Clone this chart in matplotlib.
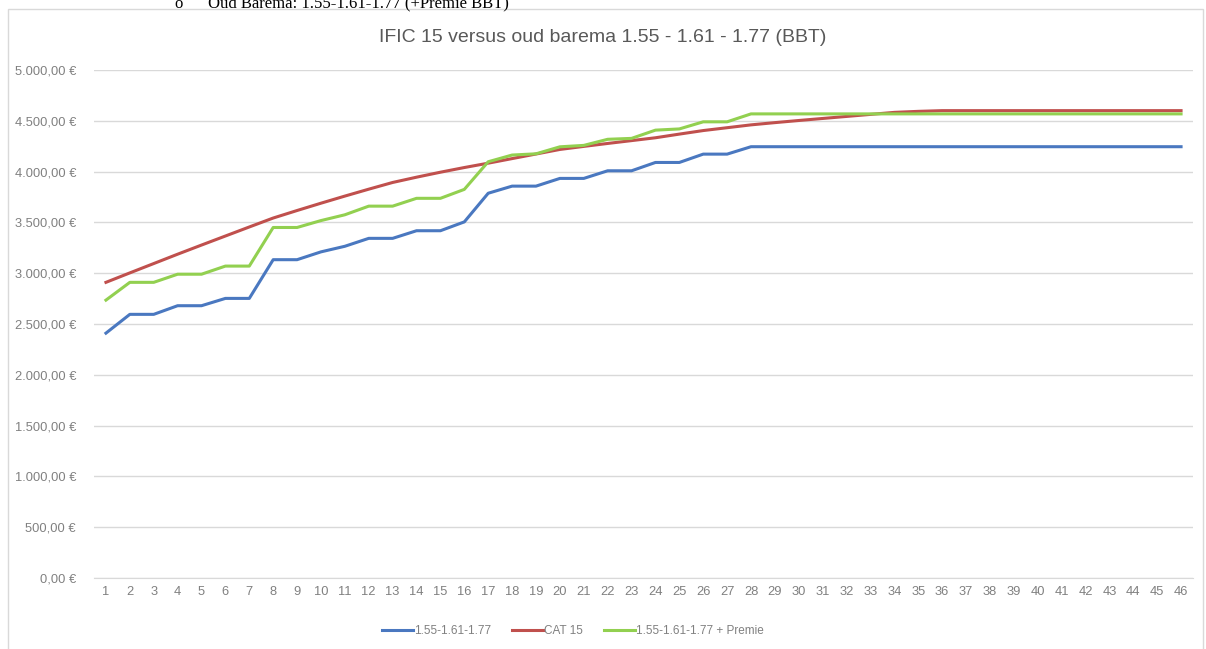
import matplotlib.pyplot as plt
from matplotlib.patches import Rectangle
from matplotlib.ticker import FuncFormatter

plt.rcParams['font.family'] = ['Liberation Sans', 'DejaVu Sans']

# DATA
years = list(range(1, 47))

oud_barema = [2410, 2595, 2595, 2680, 2680, 2752, 2752, 3133, 3133, 3210,
              3265, 3343, 3343, 3418, 3418, 3505, 3787, 3857, 3857, 3933,
              3933, 4008, 4008, 4090, 4090, 4172, 4172] + [4245] * 19

cat15 = [2910, 3003, 3095, 3187, 3277, 3366, 3455, 3543, 3617, 3689,
         3759, 3827, 3893, 3945, 3994, 4040, 4083, 4128, 4173, 4218,
         4248, 4277, 4305, 4333, 4369, 4404, 4432, 4460, 4482, 4503,
         4523, 4543, 4563, 4583, 4593] + [4600] * 11

oud_premie = [2735, 2910, 2910, 2990, 2990, 3070, 3070, 3450, 3450, 3518,
              3575, 3660, 3660, 3737, 3737, 3825, 4097, 4163, 4175, 4244,
              4258, 4318, 4327, 4408, 4420, 4490, 4490] + [4568] * 19

series_names = ["1.55-1.61-1.77", "CAT 15", "1.55-1.61-1.77 + Premie"]
colors = ["#4a78c0", "#c0504d", "#92d050"]
title = "IFIC 15 versus oud barema 1.55 - 1.61 - 1.77 (BBT)"


def euro(v, pos):
    s = f"{v:,.2f}".replace(",", "X").replace(".", ",").replace("X", ".")
    return s + " €"


fig = plt.figure(figsize=(12.06, 6.49), dpi=100)

# chart frame + text from the document above it (cut off like in the source)
fig.patches.append(Rectangle((8 / 1206, -0.01), 1195 / 1206, 1 - 9 / 649 + 0.01,
                             transform=fig.transFigure, fill=False,
                             edgecolor="#d9d9d9", lw=1))
fig.text(175 / 1206, 1 - 7 / 649, "o      Oud Barema: 1.55-1.61-1.77 (+Premie BBT)",
         family="Liberation Serif", fontsize=12, color="#000000", va="baseline")

ax = fig.add_axes([94 / 1206, 1 - 578 / 649, 1099 / 1206, 508 / 649])

for vals, name, c in zip([oud_barema, cat15, oud_premie], series_names, colors):
    ax.plot(years, vals, color=c, lw=2.2, label=name, solid_joinstyle="round")

ax.set_xlim(0.5, 46.5)
ax.set_ylim(0, 5000)
ax.set_xticks(years)
ax.set_yticks(range(0, 5001, 500))
ax.yaxis.set_major_formatter(FuncFormatter(euro))
ax.yaxis.grid(True, color="#d9d9d9", lw=1)
ax.set_axisbelow(True)
for side in ["top", "right", "left"]:
    ax.spines[side].set_visible(False)
ax.spines["bottom"].set_color("#d9d9d9")
ax.tick_params(length=0, labelsize=9.3, labelcolor="#808080")
ax.tick_params(axis="y", pad=13)
ax.tick_params(axis="x", pad=6)

fig.text(0.5, 1 - 37 / 649, title, ha="center", va="center",
         fontsize=14, color="#595959")

fig.legend(loc="center", bbox_to_anchor=(0.475, 1 - 631 / 649), ncol=3,
           frameon=False, fontsize=8.5, labelcolor="#808080",
           handlelength=2.6, handletextpad=0.1, columnspacing=1.8)

fig.savefig("out.png", dpi=100)
